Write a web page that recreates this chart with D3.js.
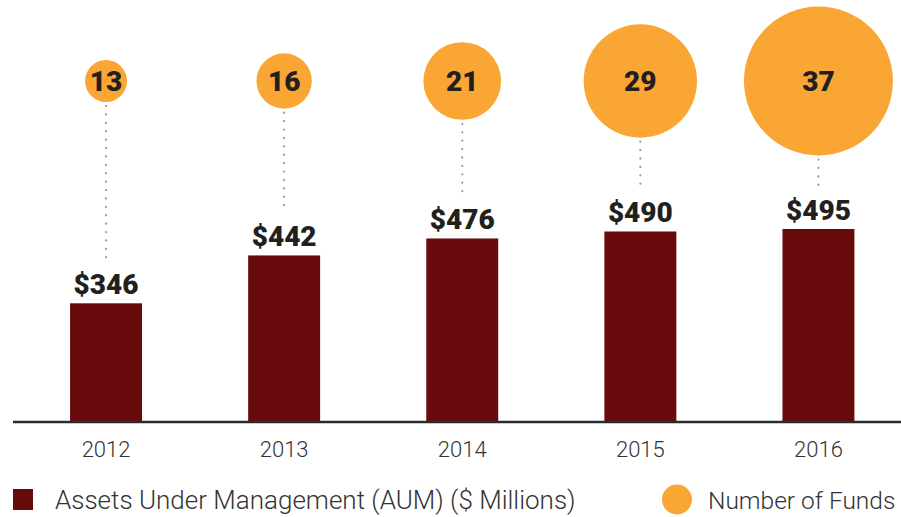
<!DOCTYPE html>
<html>
<head>
<meta charset="utf-8">
<script src="https://cdn.jsdelivr.net/npm/d3@7"></script>
<style>
  body { margin: 0; background: #fff; }
  svg { display: block; font-family: Roboto, "Noto Sans", sans-serif; }
</style>
</head>
<body>
<script>
'use strict'

const years = ['2012', '2013', '2014', '2015', '2016']
const aum = [346, 442, 476, 490, 495]
const funds = [13, 16, 21, 29, 37]

const width = 901
const height = 517
const baseline = 422
const circleY = 81

const barColor = '#690b0c'
const dotColor = '#f9a634'
const inkColor = '#231f20'

const data = years.map((y, i) => ({ year: y, aum: aum[i], funds: funds[i] }))

const x = d3.scaleBand()
  .domain(years)
  .range([17, 907.5])
  .paddingInner(0.596)
  .paddingOuter(0.298)

// bars in the source are not drawn to a zero base, so fit a shifted linear scale
const y = d3.scaleLinear()
  .domain([108, 495])
  .range([baseline, baseline - 193])

const r = d3.scaleLinear()
  .domain([13, 37])
  .range([21, 74.5])

const svg = d3.select('body').append('svg')
    .attr('width', width)
    .attr('height', height)

const cx = d => x(d.year) + x.bandwidth() / 2

// dotted connectors
svg.selectAll('.connector')
    .data(data)
  .enter().append('line')
    .attr('class', 'connector')
    .attr('x1', cx)
    .attr('x2', cx)
    .attr('y1', d => circleY + r(d.funds) + 4)
    .attr('y2', d => y(d.aum) - 9 - 35)
    .attr('stroke', '#9a9a9a')
    .attr('stroke-width', 2.2)
    .attr('stroke-linecap', 'round')
    .attr('stroke-dasharray', '0.1,8.3')

svg.selectAll('.bar')
    .data(data)
  .enter().append('rect')
    .attr('class', 'bar')
    .attr('x', d => x(d.year))
    .attr('y', d => y(d.aum))
    .attr('width', x.bandwidth())
    .attr('height', d => baseline - y(d.aum))
    .style('fill', barColor)

svg.selectAll('.aum-label')
    .data(data)
  .enter().append('text')
    .attr('class', 'aum-label')
    .attr('x', cx)
    .attr('y', d => y(d.aum) - 9)
    .attr('text-anchor', 'middle')
    .style('font-size', '28px')
    .style('font-weight', 900)
    .style('fill', inkColor)
    .text(d => '$' + d.aum)

svg.selectAll('.bubble')
    .data(data)
  .enter().append('circle')
    .attr('class', 'bubble')
    .attr('cx', cx)
    .attr('cy', circleY)
    .attr('r', d => r(d.funds))
    .style('fill', dotColor)

svg.selectAll('.fund-label')
    .data(data)
  .enter().append('text')
    .attr('class', 'fund-label')
    .attr('x', cx)
    .attr('y', circleY)
    .attr('dy', '0.35em')
    .attr('text-anchor', 'middle')
    .style('font-size', '28px')
    .style('font-weight', 900)
    .style('fill', inkColor)
    .text(d => d.funds)

// x axis
const xAxis = d3.axisBottom(x).tickSize(0).tickPadding(0)

const axis = svg.append('g')
    .attr('class', 'x axis')
    .attr('transform', 'translate(0,' + baseline + ')')
    .call(xAxis)

axis.select('.domain').remove()
axis.append('line')
    .attr('x1', 13)
    .attr('x2', width)
    .attr('stroke', '#2b2b2b')
    .attr('stroke-width', 2.6)

axis.selectAll('.tick text')
    .attr('y', 35)
    .attr('dy', 0)
    .style('font-family', 'Roboto, sans-serif')
    .style('font-size', '22px')
    .style('font-weight', 300)
    .style('fill', '#333')

// legend
const legend = svg.append('g').attr('class', 'legend')

legend.append('rect')
    .attr('x', 13)
    .attr('y', 489)
    .attr('width', 20)
    .attr('height', 21)
    .style('fill', barColor)

legend.append('text')
    .attr('x', 55)
    .attr('y', 509)
    .style('font-size', '26px')
    .style('font-weight', 300)
    .style('fill', '#333')
    .text('Assets Under Management (AUM) ($ Millions)')

legend.append('circle')
    .attr('cx', 677)
    .attr('cy', 499.5)
    .attr('r', 15)
    .style('fill', dotColor)

legend.append('text')
    .attr('x', 708)
    .attr('y', 509)
    .style('font-size', '24.5px')
    .style('font-weight', 300)
    .style('fill', '#333')
    .text('Number of Funds')
</script>
</body>
</html>
